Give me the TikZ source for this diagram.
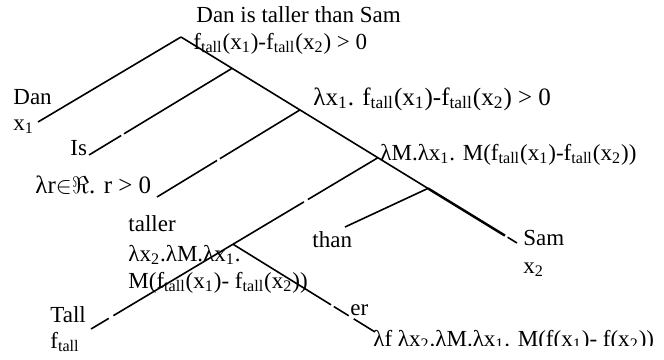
\documentclass[tikz,border=0pt]{standalone}
\usepackage{fontspec}
\setmainfont{Liberation Serif}
\usetikzlibrary{calc}
\newcommand{\ftall}{f\textsubscript{tall}}
\newcommand{\xsub}[1]{x\textsubscript{#1}}
\tikzset{
  word/.style={anchor=base west,inner sep=0pt,font=\fontsize{11.5}{13}\selectfont},
  bigword/.style={word,font=\fontsize{12.5}{14}\selectfont},
  branch/.style={line width=0.8pt,black},
  heavy/.style={line width=1.25pt,black}
}

\begin{document}
\begin{tikzpicture}[x=0.5pt,y=-0.5pt]
  \useasboundingbox (0,0) rectangle (664,359);
  % tree skeleton
  \coordinate (root) at (181,37);
  \coordinate (samEnd) at (517,243);
  \coordinate (danEnd) at (38,122);
  \coordinate (isEnd) at (89,155);
  \coordinate (posEnd) at (157,197);
  \coordinate (tallEnd) at (91,329);
  \coordinate (thanEnd) at (345,227);
  \coordinate (erEnd) at (375,332);
  \coordinate (jIs) at ($(root)!0.152!(samEnd)$);
  \coordinate (jPos) at ($(root)!0.354!(samEnd)$);
  \coordinate (jTall) at ($(root)!0.586!(samEnd)$);
  \coordinate (jThan) at ($(root)!0.735!(samEnd)$);
  \coordinate (jEr) at ($(jTall)!0.505!(tallEnd)$);
  % labels
  \node[word] (title) at (196,22) {Dan is taller than Sam};
  \node[word] (rootSem) at (193,49) {\ftall(\xsub1)-\ftall(\xsub2) > 0};
  \node[bigword] (vpSem) at (313,105) {λ\xsub1. \ftall(\xsub1)-\ftall(\xsub2) > 0};
  \node[word] (vbarSem) at (380,160) {λM.λ\xsub1. M(\ftall(\xsub1)-\ftall(\xsub2))};
  \node[word] (dan) at (13,104) {Dan};
  \node[word] (danSem) at (13,130) {\xsub1};
  \node[word] (is) at (70,155) {Is};
  \node[bigword] (pos) at (35,193) {λr${\in}{\Re}$. r > 0};
  \node[word] (taller) at (128,231) {taller};
  \node[word] (tallerSemA) at (128,261) {λ\xsub2.λM.λ\xsub1.};
  \node[word] (tallerSemB) at (128,288) {M(\ftall(\xsub1)- \ftall(\xsub2))};
  \node[word] (tall) at (50,322) {Tall};
  \node[word] (tallSem) at (50,348) {\ftall};
  \node[word] (than) at (312,247) {than};
  \node[word] (sam) at (523,245) {Sam};
  \node[word] (samSem) at (523,273) {\xsub2};
  \node[word] (er) at (350,315) {er};
  \begin{scope}
    \clip (360,320) rectangle (664,345);
    \node[word] (erSem) at (373,346) {λf λ\xsub2.λM.λ\xsub1. M(f(\xsub1)- f(\xsub2))};
  \end{scope}
  % branches
  \draw[branch] (root) -- (danEnd);
  \draw[branch] (root) -- (jThan);
  \draw[heavy] (jThan) -- ($(root)!0.964!(samEnd)$);
  \draw[branch] ($(root)!0.972!(samEnd)$) -- (samEnd);
  \draw[branch] (jIs) -- ($(jIs)!0.755!(isEnd)$) ($(jIs)!0.775!(isEnd)$) -- (isEnd);
  \draw[branch] (jPos) -- ($(jPos)!0.56!(posEnd)$) ($(jPos)!0.58!(posEnd)$) -- (posEnd);
  \draw[branch] (jTall) -- ($(jTall)!0.244!(tallEnd)$) ($(jTall)!0.258!(tallEnd)$)
    -- ($(jTall)!0.922!(tallEnd)$) ($(jTall)!0.938!(tallEnd)$) -- (tallEnd);
  \draw[branch] (jEr) -- ($(jEr)!0.69!(erEnd)$) ($(jEr)!0.71!(erEnd)$)
    -- ($(jEr)!0.815!(erEnd)$) ($(jEr)!0.85!(erEnd)$) -- (erEnd);
  \draw[branch] (jThan) -- (thanEnd);
\end{tikzpicture}
\end{document}
